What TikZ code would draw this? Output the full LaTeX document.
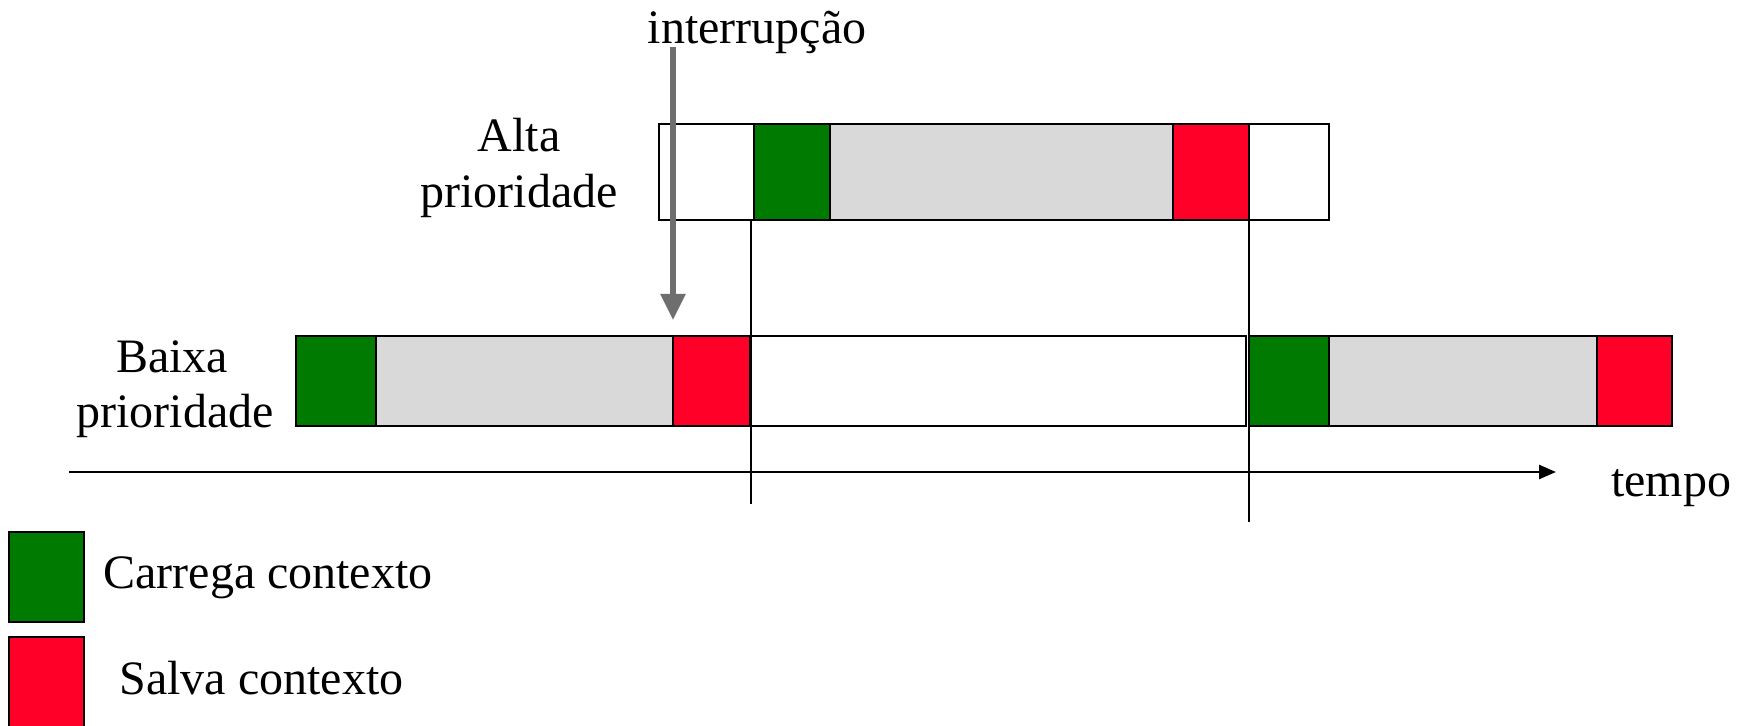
\documentclass[tikz,border=0pt]{standalone}
\usepackage{fontspec}
\setmainfont{Liberation Serif}
\usetikzlibrary{arrows.meta}
\definecolor{ctxgreen}{RGB}{0,122,0}
\definecolor{ctxred}{RGB}{255,0,41}
\definecolor{runfill}{RGB}{217,217,217}
\definecolor{irqgray}{RGB}{110,110,110}
\tikzset{
  seg/.style={draw=black, line width=1.3pt},
  load/.style={seg, fill=ctxgreen},
  save/.style={seg, fill=ctxred},
  run/.style={seg, fill=runfill},
  idle/.style={seg, fill=white},
  lbl/.style={inner sep=0pt, font=\fontsize{24}{28}\selectfont},
  switchline/.style={draw=black, line width=1pt},
}
\begin{document}
\begin{tikzpicture}[x=0.5pt,y=-0.5pt]
\useasboundingbox (0,0) rectangle (1742,726);
\clip (0,0) rectangle (1742,726);
% high priority bar
\draw[idle] (659,124) rectangle (754,220);
\draw[load] (754,124) rectangle (830,220);
\draw[run]  (830,124) rectangle (1173,220);
\draw[save] (1173,124) rectangle (1249,220);
\draw[idle] (1249,124) rectangle (1329,220);
\node[lbl, anchor=base] (altaA) at (519,152) {Alta};
\node[lbl, anchor=base] (altaB) at (519,208) {prioridade};
% low priority bar
\draw[load] (296,336) rectangle (376,426);
\draw[run]  (376,336) rectangle (673,426);
\draw[save] (673,336) rectangle (750,426);
\draw[idle] (750,336) rectangle (1246,426);
\draw[load] (1249,336) rectangle (1329,426);
\draw[run]  (1329,336) rectangle (1597,426);
\draw[save] (1597,336) rectangle (1672,426);
\node[lbl, anchor=base] (baixaA) at (172,373) {Baixa};
\node[lbl, anchor=base] (baixaB) at (175,428) {prioridade};
% time axis
\coordinate (t0) at (69,472);
\coordinate (t1) at (1556,472);
\draw[line width=1.3pt, -{Triangle[length=8.5pt,width=7pt]}] (t0) -- (t1);
\node[lbl, anchor=base] (tempo) at (1671,497) {tempo};
% switch markers
\coordinate (m1a) at (751,220);
\coordinate (m1b) at (751,504);
\coordinate (m2a) at (1249,220);
\coordinate (m2b) at (1249,522);
\draw[switchline] (m1a) -- (m1b);
\draw[switchline] (m2a) -- (m2b);
% interrupt arrow
\node[lbl, anchor=base] (irq) at (757,44) {interrupção};
\coordinate (irqA) at (673,47);
\coordinate (irqB) at (673,320);
\draw[irqgray, line width=2.6pt, -{Triangle[length=13pt,width=12pt]}] (irqA) -- (irqB);
% legend
\draw[load] (9,532) rectangle (84,622);
\node[lbl, anchor=base west] (legload) at (103,589) {Carrega contexto};
\draw[save] (9,637) rectangle (84,740);
\node[lbl, anchor=base west] (legsave) at (119,695) {Salva contexto};
\end{tikzpicture}
\end{document}
